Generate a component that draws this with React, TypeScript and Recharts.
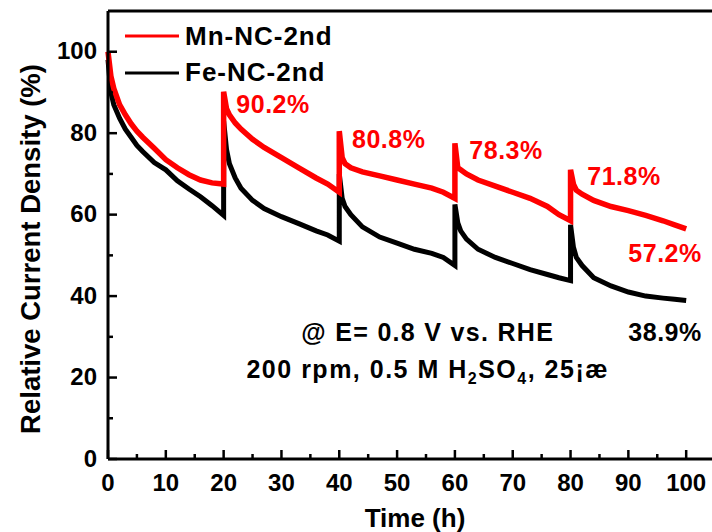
import { Label, Legend, Line, LineChart, ReferenceDot, ReferenceLine, XAxis, YAxis } from "recharts";

// time (h); each restart appears twice (before / after the jump)
const times = [
  0, 0.5, 1, 2, 3, 4, 5, 6, 8, 10, 12, 14, 16, 18, 20,
  20, 20.5, 21, 22, 23, 25, 27, 30, 33, 36, 38, 40,
  40, 40.5, 41, 42, 44, 47, 50, 53, 56, 58, 60,
  60, 60.5, 61, 62, 64, 67, 70, 73, 76, 78, 80,
  80, 80.5, 81, 82, 84, 87, 90, 93, 96, 98, 100,
];
const mnValues = [
  100, 94, 91, 87, 84.5, 82.3, 80.5, 79, 76.3, 73.5, 71.5, 69.8, 68.5, 67.8, 67.5,
  90.2, 86, 84.5, 82.5, 81, 78.5, 76.5, 74, 71.5, 69, 67.5, 65.5,
  80.5, 74, 72.5, 71.5, 70.5, 69.5, 68.5, 67.5, 66.5, 65.5, 64,
  77.5, 71.5, 71, 70, 68.5, 67, 65.5, 64, 62, 60, 58.5,
  71, 67.5, 66, 65, 63.5, 62, 61, 59.8, 58.5, 57.5, 56.5,
];
const feValues = [
  98, 90, 87, 83.7, 81, 79, 77, 75.5, 72.8, 71, 68.3, 66.3, 64.4, 62.2, 59.8,
  83, 76, 72.5, 69, 66.5, 63.5, 61.5, 59.5, 57.8, 56, 55, 53.5,
  70, 64, 62, 60, 57, 54.5, 53, 51.5, 50.5, 49.5, 47.5,
  62.5, 58, 56, 54, 51.5, 49.5, 48, 46.5, 45.3, 44.5, 43.8,
  57.5, 52, 49.5, 47.5, 44.5, 42.5, 41, 40, 39.5, 39.2, 38.9,
];

const seriesNames = ["Mn-NC-2nd", "Fe-NC-2nd"];
const seriesColors = ["#ff0000", "#000000"];

const xTicks = [0, 5, 10, 15, 20, 25, 30, 35, 40, 45, 50, 55, 60, 65, 70, 75, 80, 85, 90, 95, 100, 105];
const yTicks = [0, 10, 20, 30, 40, 50, 60, 70, 80, 90, 100];

// retention labels (left edge, vertical centre in data units)
const retentionX = [22.2, 42.2, 62.5, 82.9, 90, 90];
const retentionY = [87.2, 78.5, 75.8, 69.6, 50.6, 31.2];
const retentionText = ["90.2%", "80.8%", "78.3%", "71.8%", "57.2%", "38.9%"];
const retentionColor = ["#ff0000", "#ff0000", "#ff0000", "#ff0000", "#ff0000", "#000000"];

const conditionX = 55.3;
const conditionY = [31.2, 22.2];

const chartData = times.map((t, i) => ({ t, mn: mnValues[i], fe: feValues[i] }));

const FONT = "'Liberation Sans', Arial, sans-serif";

const XTick = (props: any) => {
  const { x, y, payload } = props;
  const major = payload.value % 10 === 0;
  return (
    <g>
      <line x1={x} x2={x} y1={y} y2={y - (major ? 9 : 5)} stroke="#000" strokeWidth={2.5} />
      {major && payload.value <= 100 && (
        <text x={x} y={y + 32} textAnchor="middle" fontFamily={FONT} fontWeight="bold" fontSize={24} fill="#000">
          {payload.value}
        </text>
      )}
    </g>
  );
};

const YTick = (props: any) => {
  const { x, y, payload } = props;
  const major = payload.value % 20 === 0;
  return (
    <g>
      <line x1={x} x2={x + (major ? 9 : 5)} y1={y} y2={y} stroke="#000" strokeWidth={2.5} />
      {major && (
        <text x={x - 11} y={y + 7.5} textAnchor="end" fontFamily={FONT} fontWeight="bold" fontSize={24} fill="#000">
          {payload.value}
        </text>
      )}
    </g>
  );
};

const LegendBox = () => (
  <svg width={240} height={80}>
    {seriesNames.map((name, i) => (
      <g key={name}>
        <line x1={5} x2={59} y1={21 + i * 37} y2={21 + i * 37} stroke={seriesColors[i]} strokeWidth={3} />
        <text x={65} y={30 + i * 36} fontFamily={FONT} fontWeight="bold" fontSize={26} letterSpacing={1} fill="#000">
          {name}
        </text>
      </g>
    ))}
  </svg>
);

export default function App() {
  return (
    <div style={{ position: "absolute", left: 0, top: 0, width: 712, height: 532, overflow: "hidden", background: "#fff" }}>
      <LineChart width={760} height={532} data={chartData} margin={{ top: 11, right: 16, left: 0, bottom: 0 }}>
        <XAxis
          dataKey="t"
          type="number"
          domain={[0, 110]}
          ticks={xTicks}
          interval={0}
          height={73}
          tickSize={0}
          tickMargin={0}
          tickLine={false}
          tick={<XTick />}
          axisLine={{ stroke: "#000", strokeWidth: 3 }}
        >
          <Label
            content={(p: any) => (
              <text x={p.viewBox.x + 307} y={p.viewBox.y + 68} textAnchor="middle" fontFamily={FONT} fontWeight="bold" fontSize={26} fill="#000">
                Time (h)
              </text>
            )}
          />
        </XAxis>
        <YAxis
          type="number"
          domain={[0, 110]}
          ticks={yTicks}
          interval={0}
          width={108}
          tickSize={0}
          tickMargin={0}
          tickLine={false}
          tick={<YTick />}
          axisLine={{ stroke: "#000", strokeWidth: 3 }}
        >
          <Label
            content={(p: any) => {
              const cx = 30;
              const cy = p.viewBox.y + 238;
              return (
                <text x={cx} y={cy} dy="0.35em" transform={`rotate(-90, ${cx}, ${cy})`} textAnchor="middle" fontFamily={FONT} fontWeight="bold" fontSize={27.5} fill="#000">
                  Relative Current Density (%)
                </text>
              );
            }}
          />
        </YAxis>
        <ReferenceLine y={110} stroke="#000" strokeWidth={3} />
        <Line dataKey="fe" stroke={seriesColors[1]} strokeWidth={5} dot={false} isAnimationActive={false} />
        <Line dataKey="mn" stroke={seriesColors[0]} strokeWidth={5.5} dot={false} isAnimationActive={false} />
        {retentionText.map((txt, i) => (
          <ReferenceDot
            key={txt}
            x={retentionX[i]}
            y={retentionY[i]}
            r={1}
            shape={(p: any) => (
              <text x={p.cx} y={p.cy} dy="0.36em" fontFamily={FONT} fontWeight="bold" fontSize={25} letterSpacing={0.5} fill={retentionColor[i]}>
                {txt}
              </text>
            )}
          />
        ))}
        <ReferenceDot
          x={conditionX}
          y={conditionY[0]}
          r={1}
          shape={(p: any) => (
            <text x={p.cx} y={p.cy} dy="0.36em" textAnchor="middle" fontFamily={FONT} fontWeight="bold" fontSize={25} letterSpacing={1.3} fill="#000">
              @ E= 0.8 V vs. RHE
            </text>
          )}
        />
        <ReferenceDot
          x={conditionX}
          y={conditionY[1]}
          r={1}
          shape={(p: any) => (
            <text x={p.cx} y={p.cy} dy="0.36em" textAnchor="middle" fontFamily={FONT} fontWeight="bold" fontSize={25} letterSpacing={1.5} fill="#000">
              200 rpm, 0.5 M H<tspan dy={6} fontSize={16}>2</tspan>
              <tspan dy={-6}>SO</tspan>
              <tspan dy={6} fontSize={16}>4</tspan>
              <tspan dy={-6}>, 25¡æ</tspan>
            </text>
          )}
        />
        <Legend
          layout="vertical"
          align="center"
          verticalAlign="middle"
          content={<LegendBox />}
          wrapperStyle={{ top: 15, left: 120, width: 240 }}
        />
      </LineChart>
    </div>
  );
}
